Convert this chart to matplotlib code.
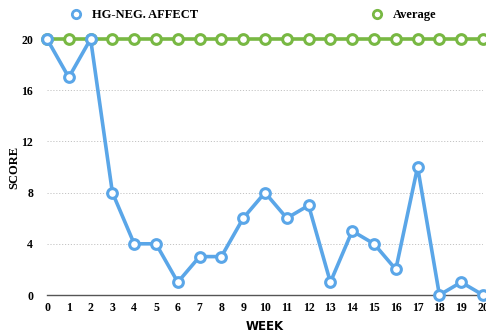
import matplotlib
matplotlib.use("Agg")
import matplotlib.pyplot as plt
from matplotlib.lines import Line2D

weeks = list(range(21))
neg_affect = [20, 17, 20, 8, 4, 4, 1, 3, 3, 6, 8, 6, 7, 1, 5, 4, 2, 10, 0, 1, 0]
average = [20] * 21
yticks = [0, 4, 8, 12, 16, 20]

blue = "#5aa6e8"
green = "#78b843"

fig = plt.figure(figsize=(4.86, 3.35), dpi=100)
ax = fig.add_axes([47 / 486, 1 - 295 / 335, (483 - 47) / 486, (295 - 39) / 335])

ax.plot(weeks, average, color=green, lw=2.6, marker="o", ms=7,
        mfc="white", mec=green, mew=2.2, clip_on=False, zorder=3)
ax.plot(weeks, neg_affect, color=blue, lw=2.6, marker="o", ms=7,
        mfc="white", mec=blue, mew=2.2, clip_on=False, zorder=4)

ax.set_xlim(0, 20)
ax.set_ylim(0, 20)
ax.set_xticks(weeks)
ax.set_yticks(yticks)
for y in yticks[1:]:
    ax.axhline(y, color="#c4c4c4", lw=0.7, ls=(0, (1.2, 1.8)), zorder=1)
for s in ["left", "right", "top"]:
    ax.spines[s].set_visible(False)
ax.spines["bottom"].set_color("#555555")
ax.spines["bottom"].set_linewidth(1.0)
ax.tick_params(length=0)
for lab in ax.get_xticklabels() + ax.get_yticklabels():
    lab.set_family("Liberation Serif")
    lab.set_weight("bold")
    lab.set_size(8.5)
ax.tick_params(axis="x", pad=5)
ax.tick_params(axis="y", pad=10)

ax.set_xlabel("WEEK", family="DejaVu Sans", weight="bold", size=8.5)
ax.xaxis.set_label_coords(0.5, -(327 - 295) / 256, transform=ax.transAxes)
ax.set_ylabel("SCORE", family="Liberation Serif", weight="bold", size=9)
ax.yaxis.set_label_coords((14 - 47) / 436, 0.5, transform=ax.transAxes)
ax.xaxis.label.set_va("center")
ax.yaxis.label.set_va("center")

handles = [
    Line2D([], [], color=blue, lw=0, marker="o", ms=6, mfc="white", mec=blue, mew=2),
    Line2D([], [], color=green, lw=0, marker="o", ms=6, mfc="white", mec=green, mew=2),
]
fig.legend(handles, ["HG-NEG. AFFECT", "Average"], ncol=2, loc="center left",
           bbox_to_anchor=(52 / 486, 1 - 15 / 335), frameon=False,
           columnspacing=13.3, handletextpad=0.3,
           prop={"family": "Liberation Serif", "weight": "bold", "size": 9})

fig.savefig("out.png", dpi=100)
